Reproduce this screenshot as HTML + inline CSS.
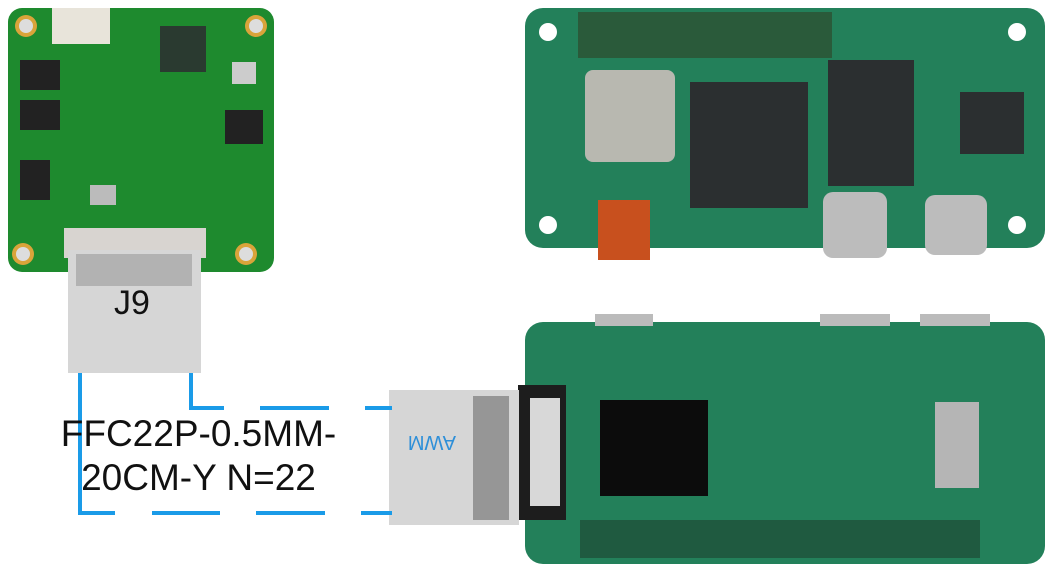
<!DOCTYPE html>
<html><head><style>
body{margin:0;width:1050px;height:569px;background:#fff;position:relative;overflow:hidden;font-family:"Liberation Sans",sans-serif}
.a{position:absolute}
</style></head><body>
<svg class="a" style="left:0;top:0" width="1050" height="569">
<rect x="8" y="8" width="266" height="264" rx="14" fill="#1e8a2e"/>
<rect x="52" y="8" width="58" height="36" fill="#e8e4da"/>
<rect x="160" y="26" width="46" height="46" fill="#2a3a30"/>
<rect x="20" y="60" width="40" height="30" fill="#222"/>
<rect x="20" y="100" width="40" height="30" fill="#222"/>
<rect x="20" y="160" width="30" height="40" fill="#222"/>
<rect x="225" y="110" width="38" height="34" fill="#222"/>
<rect x="90" y="185" width="26" height="20" fill="#bbb"/>
<rect x="232" y="62" width="24" height="22" fill="#ccc"/>
<circle cx="26" cy="26" r="11" fill="#d9a43a"/><circle cx="26" cy="26" r="7" fill="#ddd"/>
<circle cx="256" cy="26" r="11" fill="#d9a43a"/><circle cx="256" cy="26" r="7" fill="#ddd"/>
<circle cx="23" cy="254" r="11" fill="#d9a43a"/><circle cx="23" cy="254" r="7" fill="#ddd"/>
<circle cx="246" cy="254" r="11" fill="#d9a43a"/><circle cx="246" cy="254" r="7" fill="#ddd"/>
<rect x="64" y="228" width="142" height="30" fill="#d8d4d0"/>
<rect x="68" y="250" width="133" height="123" fill="#d6d6d6"/>
<rect x="76" y="254" width="116" height="32" fill="#9a9a9a" opacity="0.6"/>
<rect x="525" y="8" width="520" height="240" rx="18" fill="#23805a"/>
<rect x="578" y="12" width="254" height="46" fill="#2a5a3a"/>
<rect x="585" y="70" width="90" height="92" rx="8" fill="#b8b8b0"/>
<rect x="690" y="82" width="118" height="126" fill="#2b2f30"/>
<rect x="828" y="60" width="86" height="126" fill="#2b2f30"/>
<rect x="960" y="92" width="64" height="62" fill="#2b2f30"/>
<rect x="598" y="200" width="52" height="60" fill="#c8501e"/>
<rect x="823" y="192" width="64" height="66" rx="10" fill="#bcbcbc"/>
<rect x="925" y="195" width="62" height="60" rx="10" fill="#bcbcbc"/>
<circle cx="548" cy="32" r="9" fill="#fff"/><circle cx="1017" cy="32" r="9" fill="#fff"/>
<circle cx="548" cy="225" r="9" fill="#fff"/><circle cx="1017" cy="225" r="9" fill="#fff"/>
<rect x="525" y="322" width="520" height="242" rx="18" fill="#23805a"/>
<rect x="580" y="520" width="400" height="38" fill="#1f5a40"/>
<rect x="600" y="400" width="108" height="96" fill="#0c0c0c"/>
<rect x="935" y="402" width="44" height="86" fill="#b5b5b5"/>
<rect x="595" y="314" width="58" height="12" fill="#bbb"/>
<rect x="820" y="314" width="70" height="12" fill="#bbb"/>
<rect x="920" y="314" width="70" height="12" fill="#bbb"/>
<rect x="518" y="385" width="48" height="135" fill="#1d1d1d"/>
<rect x="530" y="398" width="30" height="108" fill="#d8d8d8"/>
<rect x="389" y="390" width="130" height="135" fill="#d6d6d6"/>
<rect x="473" y="396" width="36" height="124" fill="#555" opacity="0.5"/>
<g stroke="#1a9be8" stroke-width="4" fill="none">
<path d="M80 373 V513 H115 M152 513 H220 M256 513 H325 M361 513 H392"/>
<path d="M191 373 V408 H224 M260 408 H329 M365 408 H392"/>
</g>
<text x="408" y="448" fill="#2e8fd8" font-size="20" transform="rotate(180 432 442)">AWM</text>
</svg>
<div class="a" style="left:114px;top:284px;font-size:34px;color:#111">J9</div>
<div class="a" style="left:56px;top:412px;width:285px;text-align:center;font-size:37px;line-height:44px;color:#111">FFC22P-0.5MM-<br>20CM-Y N=22</div>
</body></html>
